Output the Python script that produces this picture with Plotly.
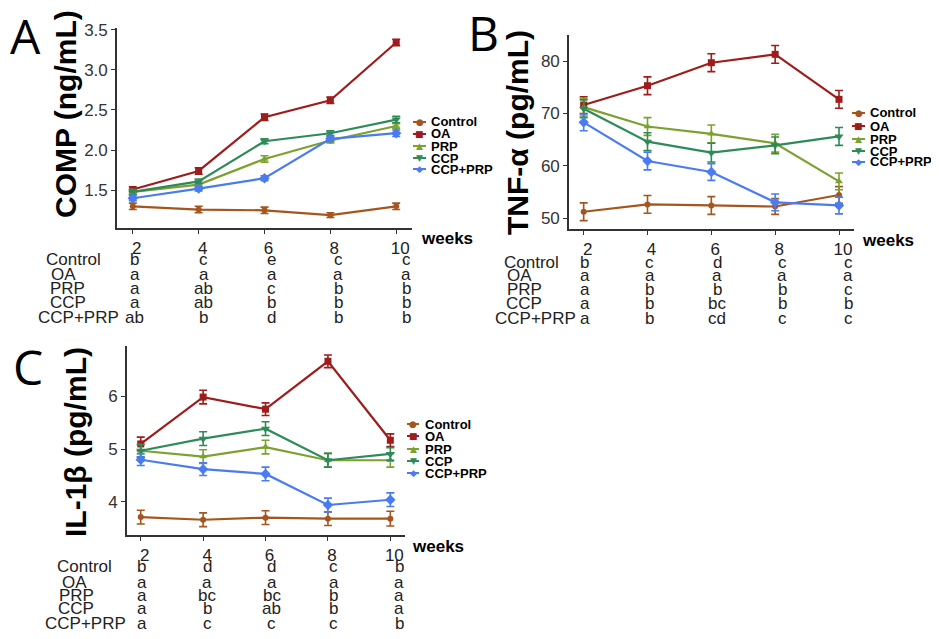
import plotly.graph_objects as go

# page is shown with the browser's default 8px body margin, so the figure is
# sized to fit inside the window and positions below are given in window pixels
OFF = 8
W, H = 939 - OFF, 639 - OFF

weeks = [2, 4, 6, 8, 10]
groups = ["Control", "OA", "PRP", "CCP", "CCP+PRP"]
colors = ["#A5561F", "#9E1C1C", "#7BA12E", "#2E8B57", "#4A7BF0"]
symbols = ["circle", "square", "triangle-up", "triangle-down", "diamond"]
glyphs = ["●", "■", "▲", "▼", "◆"]
sizes = [6, 7, 7, 8, 8]

# panel A - COMP (ng/mL)
comp_mean = {
    "Control": [1.30, 1.26, 1.25, 1.19, 1.30],
    "OA": [1.51, 1.74, 2.41, 2.62, 3.34],
    "PRP": [1.48, 1.57, 1.89, 2.12, 2.30],
    "CCP": [1.48, 1.61, 2.11, 2.21, 2.38],
    "CCP+PRP": [1.40, 1.52, 1.65, 2.14, 2.21],
}
comp_err = {
    "Control": [0.04, 0.04, 0.04, 0.03, 0.04],
    "OA": [0.03, 0.04, 0.04, 0.04, 0.04],
    "PRP": [0.03, 0.03, 0.04, 0.03, 0.03],
    "CCP": [0.03, 0.03, 0.03, 0.03, 0.04],
    "CCP+PRP": [0.03, 0.03, 0.03, 0.03, 0.04],
}
comp_letters = {
    "Control": ["b", "c", "e", "c", "c"],
    "OA": ["a", "a", "a", "a", "a"],
    "PRP": ["a", "ab", "c", "b", "b"],
    "CCP": ["a", "ab", "b", "b", "b"],
    "CCP+PRP": ["ab", "b", "d", "b", "b"],
}

# panel B - TNF-alpha (pg/mL)
tnf_mean = {
    "Control": [51.2, 52.6, 52.4, 52.2, 54.4],
    "OA": [71.6, 75.3, 79.7, 81.3, 72.7],
    "PRP": [71.2, 67.5, 66.1, 64.3, 57.0],
    "CCP": [70.9, 64.6, 62.5, 63.9, 65.6],
    "CCP+PRP": [68.3, 60.9, 58.8, 53.0, 52.4],
}
tnf_err = {
    "Control": [1.7, 1.7, 1.7, 1.5, 1.6],
    "OA": [1.6, 1.7, 1.7, 1.7, 1.7],
    "PRP": [1.7, 1.7, 1.7, 1.7, 1.6],
    "CCP": [1.7, 1.7, 1.8, 1.6, 1.7],
    "CCP+PRP": [1.6, 1.7, 1.6, 1.6, 1.6],
}
tnf_letters = {
    "Control": ["b", "c", "d", "c", "c"],
    "OA": ["a", "a", "a", "a", "a"],
    "PRP": ["a", "b", "b", "b", "c"],
    "CCP": ["a", "b", "bc", "b", "b"],
    "CCP+PRP": ["a", "b", "cd", "c", "c"],
}

# panel C - IL-1beta (pg/mL)
il_mean = {
    "Control": [3.71, 3.66, 3.70, 3.68, 3.68],
    "OA": [5.10, 5.99, 5.76, 6.67, 5.17],
    "PRP": [4.97, 4.86, 5.04, 4.79, 4.79],
    "CCP": [4.97, 5.20, 5.39, 4.79, 4.91],
    "CCP+PRP": [4.80, 4.62, 4.53, 3.94, 4.04],
}
il_err = {
    "Control": [0.13, 0.13, 0.13, 0.13, 0.14],
    "OA": [0.13, 0.13, 0.12, 0.12, 0.12],
    "PRP": [0.12, 0.13, 0.13, 0.13, 0.13],
    "CCP": [0.12, 0.13, 0.13, 0.13, 0.12],
    "CCP+PRP": [0.11, 0.12, 0.13, 0.13, 0.13],
}
il_letters = {
    "Control": ["b", "d", "d", "c", "b"],
    "OA": ["a", "a", "a", "a", "a"],
    "PRP": ["a", "bc", "bc", "b", "a"],
    "CCP": ["a", "b", "ab", "b", "a"],
    "CCP+PRP": ["a", "c", "c", "c", "b"],
}


def px(x):
    return (x - OFF) / W


def py(y):
    return 1 - (y - OFF) / H


FONT = "Liberation Sans, Arial, sans-serif"

fig = go.Figure()

panels = [
    dict(mean=comp_mean, err=comp_err, letters=comp_letters, ax="",
         xdom=[px(117), px(412)], ydom=[py(228), py(28)], yrange=[1.03, 3.52],
         ytick=[1.5, 2.0, 2.5, 3.0, 3.5], yfmt=".1f", xrange=[1.52, 10.48],
         title="COMP (ng/mL)", tx=65, ty=114, label="A", lx=25, ly=36,
         leg_x=(413, 426, 429), leg_y=[122, 134, 146, 158, 169], weeks=(419, 238),
         rows_y=[259, 274, 288, 302, 317], rows_x=[44, 49, 48, 48, 36],
         shifts=[2, 5, 7, 8, 10]),
    dict(mean=tnf_mean, err=tnf_err, letters=tnf_letters, ax="2",
         xdom=[px(569), px(854)], ydom=[py(229), py(35)], yrange=[47.9, 85],
         ytick=[50, 60, 70, 80], yfmt="d", xrange=[1.54, 10.47],
         title="TNF-α (pg/mL)", tx=517, ty=133, label="B", lx=483, ly=32,
         leg_x=(852, 865, 868), leg_y=[113, 126, 139, 151, 162], weeks=(860, 240),
         rows_y=[262, 276, 289, 303, 318], rows_x=[502, 505, 505, 504, 493],
         shifts=[1, 2, 6, 7, 9]),
    dict(mean=il_mean, err=il_err, letters=il_letters, ax="3",
         xdom=[px(127), px(405)], ydom=[py(535), py(346)], yrange=[3.37, 6.96],
         ytick=[4, 5, 6], yfmt="d", xrange=[1.56, 10.47],
         title="IL-1β (pg/mL)", tx=75, ty=442, label="C", lx=28, ly=366,
         leg_x=(407, 419, 423), leg_y=[424, 436, 449, 461, 473], weeks=(410, 546),
         rows_y=[566, 582, 595, 608, 623], rows_x=[55, 60, 57, 56, 43],
         shifts=[1, 4, 6, 6, 9]),
]

annotations = []
shapes = []
layout_axes = {}

for p in panels:
    xa = "x" + p["ax"]
    ya = "y" + p["ax"]
    for g, c, s, sz in zip(groups, colors, symbols, sizes):
        fig.add_trace(go.Scatter(
            x=weeks, y=p["mean"][g], name=g, mode="lines+markers",
            line=dict(color=c, width=2.2),
            marker=dict(color=c, symbol=s, size=sz),
            error_y=dict(type="data", array=p["err"][g], color=c,
                         thickness=1.6, width=4),
            xaxis=xa, yaxis=ya, showlegend=False,
        ))

    layout_axes["xaxis" + p["ax"]] = dict(
        domain=p["xdom"], range=p["xrange"], anchor=ya, automargin=False,
        tickvals=weeks, ticks="outside", ticklen=4, tickwidth=1.3,
        tickcolor="#333", showline=True, linecolor="#333", linewidth=1.6,
        showgrid=False, zeroline=False, ticklabelshift=4,
        tickfont=dict(family=FONT, size=17, color="#222"),
    )
    layout_axes["yaxis" + p["ax"]] = dict(
        domain=p["ydom"], range=p["yrange"], anchor=xa, automargin=False,
        tickvals=p["ytick"], tickformat=p["yfmt"], ticks="outside",
        ticklen=4, tickwidth=1.3, tickcolor="#333", showline=True,
        linecolor="#333", linewidth=1.6, showgrid=False, zeroline=False,
        tickfont=dict(family=FONT, size=17, color="#333"),
    )

    # y title
    annotations.append(dict(
        text="<b>%s</b>" % p["title"], xref="paper", yref="paper",
        x=px(p["tx"]), y=py(p["ty"]), textangle=-90, showarrow=False,
        xanchor="center", yanchor="middle",
        font=dict(family=FONT, size=30, color="black"),
    ))
    # panel letter
    annotations.append(dict(
        text=p["label"], xref="paper", yref="paper",
        x=px(p["lx"]), y=py(p["ly"]), showarrow=False,
        xanchor="center", yanchor="middle",
        font=dict(family="Open Sans, sans-serif", size=48, color="black"),
    ))
    # weeks
    annotations.append(dict(
        text="<b>weeks</b>", xref="paper", yref="paper",
        x=px(p["weeks"][0]), y=py(p["weeks"][1]), showarrow=False,
        xanchor="left", yanchor="middle",
        font=dict(family=FONT, size=17, color="black"),
    ))
    # compact legend (line + symbol + bold label)
    lx0, lx1, ltx = p["leg_x"]
    for g, c, gl, ly in zip(groups, colors, glyphs, p["leg_y"]):
        shapes.append(dict(
            type="line", xref="paper", yref="paper",
            x0=px(lx0), x1=px(lx1), y0=py(ly), y1=py(ly),
            line=dict(color=c, width=2),
        ))
        annotations.append(dict(
            text=gl, xref="paper", yref="paper",
            x=px((lx0 + lx1) / 2), y=py(ly), showarrow=False,
            xanchor="center", yanchor="middle",
            font=dict(family="DejaVu Sans", size=9, color=c),
        ))
        annotations.append(dict(
            text="<b>%s</b>" % g, xref="paper", yref="paper",
            x=px(ltx), y=py(ly), showarrow=False,
            xanchor="left", yanchor="middle",
            font=dict(family=FONT, size=13, color="black"),
        ))
    # letter table
    for g, ry, rx in zip(groups, p["rows_y"], p["rows_x"]):
        annotations.append(dict(
            text=g, xref="paper", yref="paper", x=px(rx), y=py(ry),
            showarrow=False, xanchor="left", yanchor="middle",
            font=dict(family=FONT, size=17, color="#222"),
        ))
        for wk, lt, sh in zip(weeks, p["letters"][g], p["shifts"]):
            annotations.append(dict(
                text=lt, xref=xa, yref="paper", x=wk, xshift=sh, y=py(ry),
                showarrow=False, xanchor="center", yanchor="middle",
                font=dict(family=FONT, size=17, color="#222"),
            ))

fig.update_layout(
    width=W, height=H,
    margin=dict(l=0, r=0, t=0, b=0, pad=0, autoexpand=False),
    paper_bgcolor="white", plot_bgcolor="white",
    showlegend=False,
    annotations=annotations,
    shapes=shapes,
    **layout_axes,
)

fig.write_html("out.html")
